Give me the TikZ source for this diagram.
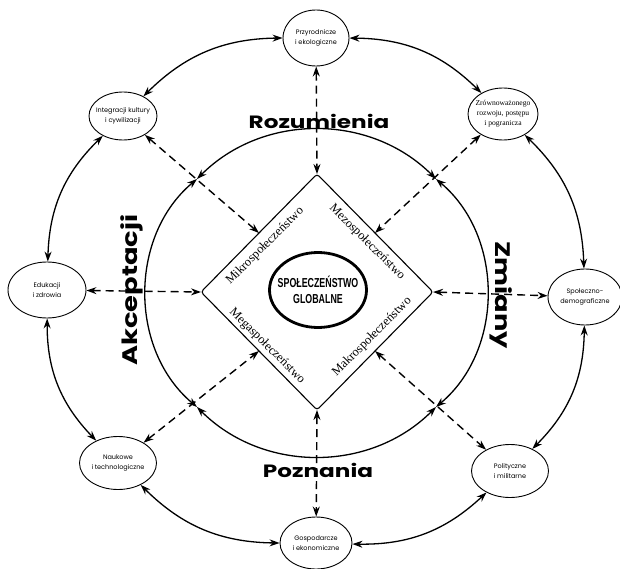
\documentclass[tikz,border=0pt]{standalone}
\usepackage{fontspec}
\setmainfont{Liberation Serif}
\newfontfamily\gothic{Poppins}
\newfontfamily\gothicwide[FakeStretch=1.3]{Poppins}
\newfontfamily\narrowbold[FakeStretch=0.68]{Liberation Sans}
\usetikzlibrary{arrows.meta,shapes.geometric}

\tikzset{
  field/.style={draw, ellipse, line width=0.9pt, minimum width=72pt, minimum height=52pt,
    inner xsep=-20pt, inner ysep=-12pt, align=center, font=\gothic\fontsize{6.5}{9.5}\selectfont},
  ringarrow/.style={{Stealth[length=10pt,width=7pt]}-{Stealth[length=10pt,width=7pt]}, line width=1.3pt},
  dasharrow/.style={ringarrow, line width=1.4pt, dash pattern=on 8pt off 5pt},
  sidelabel/.style={font=\fontsize{12.5}{13}\selectfont},
  dimension/.style={font=\gothicwide\bfseries\fontsize{17.8}{18}\selectfont, inner sep=0pt},
}

\begin{document}
\begin{tikzpicture}[x=1pt,y=1pt,yscale=-1,xscale=1]
    %set diagram left start at 0, and has height of 569
    \fill[white] (0,0) rectangle (620,569);
    \useasboundingbox (0,0) rectangle (620,569);

    %Shape: Ellipse [id:outer fields]
    \node[field, minimum width=66pt, minimum height=56pt] (prz) at (316,38) {Przyrodnicze\\i ekologiczne};
    \node[field, minimum width=70pt, minimum height=52pt, font=\fontsize{7.6}{10}\selectfont] (zro) at (503,114) {Zrównoważonego\\rozwoju, postępu\\i pogranicza};
    \node[field, minimum width=74pt, minimum height=56pt] (spo) at (585,297) {Społeczno-\\demograficzne};
    \node[field, minimum width=77pt, minimum height=53pt] (pol) at (510,471) {Polityczne\\i militarne};
    \node[field] (gos) at (316,543) {Gospodarcze\\i ekonomiczne};
    \node[field, minimum width=77pt, minimum height=53pt] (nau) at (118,463) {Naukowe\\i technologiczne};
    \node[field, minimum width=78pt, minimum height=56pt] (edu) at (47,290) {Edukacji\\i zdrowia};
    \node[field, minimum width=68pt, minimum height=48pt] (int) at (123,116) {Integracji kultury\\i cywilizacji};

    %Curve Lines [id:outer ring]
    \draw[ringarrow] (prz) to[bend right=22] (zro);
    \draw[ringarrow] (zro) to[bend right=22] (spo);
    \draw[ringarrow] (spo) to[bend right=22] (pol);
    \draw[ringarrow] (pol) to[bend right=22] (gos);
    \draw[ringarrow] (gos) to[bend right=22] (nau);
    \draw[ringarrow] (nau) to[bend right=22] (edu);
    \draw[ringarrow] (edu) to[bend right=22] (int);
    \draw[ringarrow] (int) to[bend right=22] (prz);

    %Curve Lines [id:inner ring]
    \coordinate (q1) at (436,179);
    \coordinate (q2) at (197,179);
    \coordinate (q3) at (197,407);
    \coordinate (q4) at (436,407);
    \draw[ringarrow] (q2) to[bend right=45] (q1);
    \draw[ringarrow] (q1) to[bend right=50] (q4);
    \draw[ringarrow] (q4) to[bend right=45] (q3);
    \draw[ringarrow] (q3) to[bend right=50] (q2);

    %Text on the inner ring
    \node[dimension] (roz) at (319,121) {Rozumienia};
    \node[dimension] (poz) at (318,470) {Poznania};
    \node[dimension, font=\gothicwide\bfseries\fontsize{21}{21}\selectfont, rotate=90] (akc) at (132,290) {Akceptacji};
    \node[dimension, font=\gothicwide\bfseries\fontsize{21}{21}\selectfont, rotate=-90] (zmi) at (501,295) {Zmiany};

    %Shape: Diamond [id:society levels]
    \coordinate (dT) at (317,174);
    \coordinate (dR) at (433,292);
    \coordinate (dB) at (317,410);
    \coordinate (dL) at (201,292);
    \coordinate (mUL) at (259,233);
    \coordinate (mUR) at (375,233);
    \coordinate (mLL) at (259,351);
    \coordinate (mLR) at (375,351);
    \draw[line width=1.1pt, rounded corners=3pt] (dT) -- (dR) -- (dB) -- (dL) -- cycle;
    \node[sidelabel, rotate=45] (mik) at (265,246) {Mikrospołeczeństwo};
    \node[sidelabel, rotate=-45] (mez) at (367,242) {Mezospołeczeństwo};
    \node[sidelabel, rotate=-45] (meg) at (267,346) {Megaspołeczeństwo};
    \node[sidelabel, rotate=45] (mak) at (372,337) {Makrospołeczeństwo};

    %Shape: Ellipse [id:centre]
    \node[draw, ellipse, line width=2.8pt, minimum width=97pt, minimum height=75pt, inner sep=0pt] (glob) at (318,290) {};
    \node[align=center, inner sep=0pt, font=\narrowbold\bfseries\fontsize{13}{16}\selectfont] (globtext) at (glob.center) {SPOŁECZEŃSTWO\\GLOBALNE};

    %Straight Lines [id:dashed links]
    \draw[dasharrow] (prz) -- (dT);
    \draw[dasharrow] (int) -- (mUL);
    \draw[dasharrow] (zro) -- (mUR);
    \draw[dasharrow] (edu) -- (dL);
    \draw[dasharrow] (dR) -- (spo);
    \draw[dasharrow] (nau) -- (mLL);
    \draw[dasharrow] (mLR) -- (pol);
    \draw[dasharrow] (dB) -- (gos);
\end{tikzpicture}
\end{document}
